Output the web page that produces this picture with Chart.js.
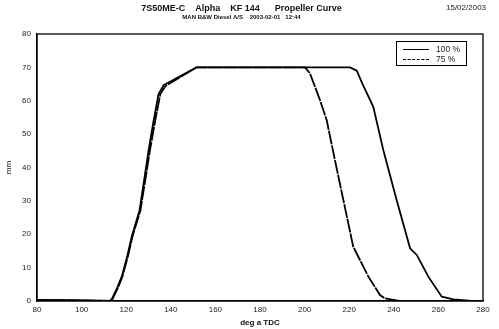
<!DOCTYPE html>
<html lang="en">
<head>
    <meta charset="UTF-8">
    <title>Propeller Curve</title>
    <script src="https://cdn.jsdelivr.net/npm/chart.js"></script>
    <style>
        body { margin: 0; background: #fff; font-family: "Liberation Sans", Arial, sans-serif; }
        #wrap { position: relative; width: 499px; height: 329px; }
        #date { position: absolute; left: 446px; top: 3px; font-size: 8px; color: #222; }
        #legend {
            position: absolute; left: 396px; top: 41px; width: 71px; height: 25px;
            border: 1px solid #000; box-sizing: border-box; background: #fff;
            font-size: 8.5px; color: #222;
        }
        .row { position: absolute; left: 6px; height: 10px; width: 60px; }
        .row .ln { position: absolute; left: 0; top: 5px; width: 26px; border-top: 1.5px solid #000; }
        .row .ln.dash { border-top: 1.5px dashed #000; }
        .row span { position: absolute; left: 33px; top: 0; line-height: 10px; }
    </style>
</head>
<body>
<div id="wrap">
    <canvas id="chartCanvas" width="499" height="329"></canvas>
    <div id="date">15/02/2003</div>
    <div id="legend">
        <div class="row" style="top:2px"><div class="ln"></div><span>100 %</span></div>
        <div class="row" style="top:12px"><div class="ln dash"></div><span>75 %</span></div>
    </div>
</div>
<script>
    // crank angle (deg a TDC) and lift (mm)
    const deg100 = [80, 100, 112.5, 113.5, 116, 118, 120.5, 122.5, 126, 128, 130, 132.3, 134.5, 136.8, 151.5, 160, 180, 200, 220.4, 223.4, 226, 230.8, 235.3, 241.3, 247.3, 250.3, 255.5, 261.5, 266.7, 275, 280];
    const mm100  = [0.3, 0.2, 0, 0.5, 4, 7.3, 13.5, 19.3, 27.2, 36, 45, 54, 62, 64.7, 70, 70, 70, 70, 70, 69, 65, 58.2, 45.2, 30.2, 15.8, 13.8, 7.3, 1.3, 0.5, 0, 0];

    const deg75 = [80, 100, 112.8, 113.8, 116.3, 118.3, 120.8, 122.8, 126.4, 128.5, 130.6, 133, 135.3, 137.6, 151.5, 160, 180, 200.2, 202.4, 206.9, 209.9, 213.6, 217.4, 221.8, 223.3, 228.6, 233.8, 236, 242.8, 280];
    const mm75  = [0.3, 0.2, 0, 0.5, 4, 7.3, 13.5, 19.3, 27.2, 36, 45, 54, 62, 64.4, 70, 70, 70, 70, 68.2, 60.2, 54.2, 42.2, 30.2, 16.3, 14.3, 7.3, 1.8, 0.8, 0, 0];

    const xTicks = [80, 100, 120, 140, 160, 180, 200, 220, 240, 260, 280];
    const yTicks = [0, 10, 20, 30, 40, 50, 60, 70, 80];

    function toPoints(xs, ys) {
        return xs.map((x, i) => ({ x: x, y: ys[i] }));
    }

    // draws the top and right edges of the plot box
    const frame = {
        id: 'frame',
        afterDraw(chart) {
            const a = chart.chartArea;
            const ctx = chart.ctx;
            ctx.save();
            ctx.strokeStyle = '#000';
            ctx.lineWidth = 1.3;
            ctx.strokeRect(a.left, a.top, a.right - a.left, a.bottom - a.top);
            ctx.restore();
        }
    };

    const ctx = document.getElementById('chartCanvas').getContext('2d');
    new Chart(ctx, {
        type: 'line',
        data: {
            datasets: [{
                label: '100 %',
                data: toPoints(deg100, mm100),
                borderColor: '#000',
                borderWidth: 1.8,
                pointRadius: 0,
                tension: 0
            }, {
                label: '75 %',
                data: toPoints(deg75, mm75),
                borderColor: '#000',
                borderWidth: 1.8,
                borderDash: [14, 1],
                pointRadius: 0,
                tension: 0
            }]
        },
        options: {
            responsive: false,
            animation: false,
            layout: { padding: { top: 0, right: 16, bottom: 0, left: 0 } },
            plugins: {
                legend: { display: false },
                tooltip: { enabled: false },
                title: {
                    display: true,
                    text: '7S50ME-C    Alpha    KF 144      Propeller Curve',
                    color: '#111',
                    font: { family: 'Liberation Sans', size: 9, weight: 'bold' },
                    padding: { top: 3, bottom: 0 }
                },
                subtitle: {
                    display: true,
                    text: 'MAN B&W Diesel A/S    2003-02-01   12:44',
                    color: '#111',
                    font: { family: 'Liberation Sans', size: 6, weight: 'bold' },
                    padding: { top: 0, bottom: 13 }
                }
            },
            scales: {
                x: {
                    type: 'linear',
                    min: 80,
                    max: 280,
                    grid: { display: false, drawTicks: false },
                    border: { display: true, color: '#000', width: 1.3 },
                    afterBuildTicks: (axis) => { axis.ticks = xTicks.map(v => ({ value: v })); },
                    afterFit: (axis) => { axis.height = 28; },
                    ticks: {
                        color: '#222',
                        padding: 4,
                        maxRotation: 0,
                        font: { family: 'Liberation Sans', size: 8 }
                    },
                    title: {
                        display: true,
                        text: 'deg a TDC',
                        color: '#111',
                        padding: { top: 0, bottom: 1 },
                        font: { family: 'Liberation Sans', size: 8, weight: 'bold' }
                    }
                },
                y: {
                    min: 0,
                    max: 80,
                    grid: { display: false, drawTicks: false },
                    border: { display: true, color: '#000', width: 1.3 },
                    afterBuildTicks: (axis) => { axis.ticks = yTicks.map(v => ({ value: v })); },
                    afterFit: (axis) => { axis.width = 37; },
                    ticks: {
                        color: '#222',
                        padding: 6,
                        font: { family: 'Liberation Sans', size: 8 }
                    },
                    title: {
                        display: true,
                        text: 'mm',
                        color: '#111',
                        padding: { top: 4, bottom: 0 },
                        font: { family: 'Liberation Sans', size: 8 }
                    }
                }
            }
        },
        plugins: [frame]
    });
</script>
</body>
</html>
